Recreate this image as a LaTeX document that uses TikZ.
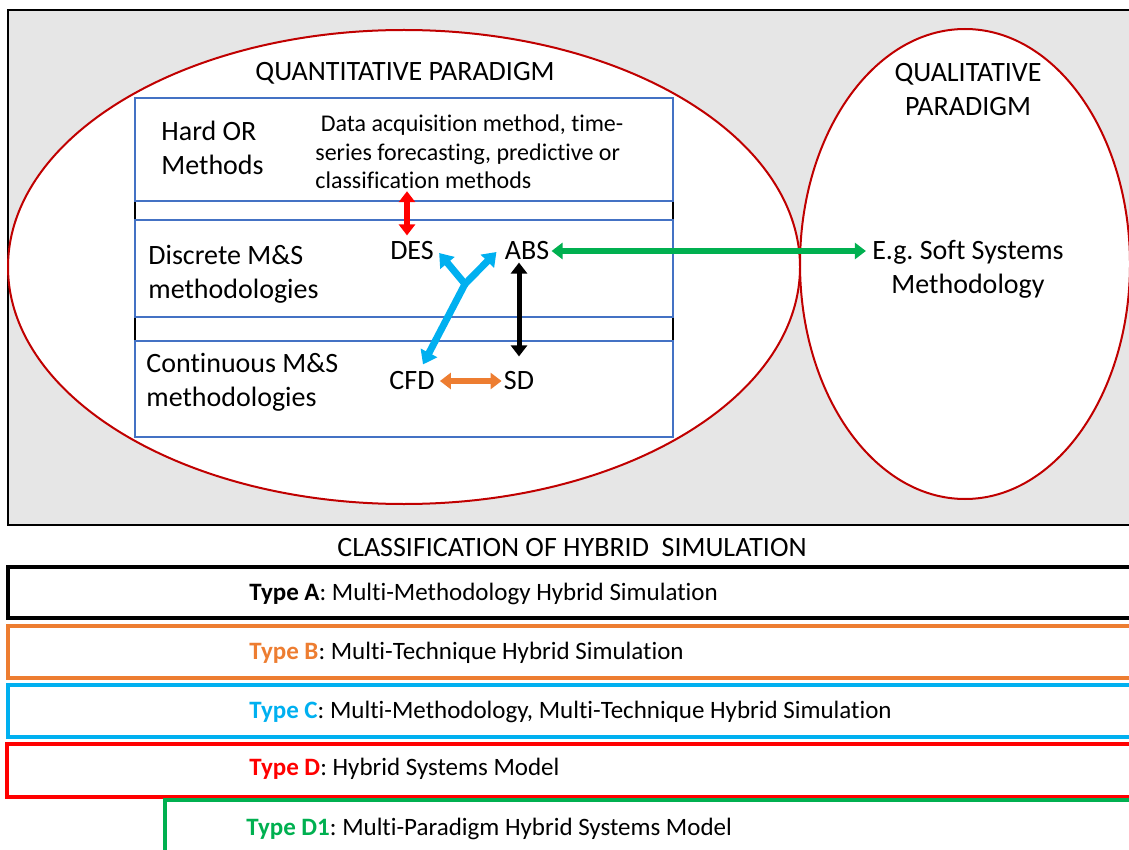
\documentclass[tikz,border=0pt]{standalone}
\usepackage{fontspec}
\setmainfont{Carlito}[Ligatures=NoCommon]
\usetikzlibrary{arrows.meta,calc}
\definecolor{typeorange}{HTML}{ED7D31}
\definecolor{typeblue}{HTML}{00B0F0}
\definecolor{typegreen}{HTML}{00B050}
\definecolor{layerblue}{HTML}{4472C4}
\definecolor{ovalred}{HTML}{C00000}
\definecolor{bggrey}{HTML}{E6E6E6}
\frenchspacing
\begin{document}
\begin{tikzpicture}[
      x=0.5pt, y=-0.5pt,
      every node/.style={inner sep=1pt, font=\fontsize{14}{17}\selectfont},
      txt/.style={align=left, anchor=west},
      small/.style={font=\fontsize{12}{14.2}\selectfont},
      typetxt/.style={anchor=west, font=\fontsize{12.5}{15}\selectfont},
      oval/.style={draw=ovalred, fill=white, line width=1pt},
      layer/.style={draw=layerblue, line width=0.75pt},
      typebox/.style={line width=1.75pt},
      link/.style={line width=3pt, {Triangle[length=5.5pt,width=8pt]}-{Triangle[length=5.5pt,width=8pt]}},
      splitarrow/.style={draw=typeblue, line width=3.5pt, line cap=round, -{Triangle[length=6.5pt,width=9pt]}}
      ]
      \useasboundingbox (0,0) rectangle (1129,850);
      \clip (0,0) rectangle (1129,850);
      \draw[fill=bggrey, line width=1pt] (8,10) rectangle (1140,525);
      \draw[oval] (404,267) ellipse [x radius=396, y radius=237];
      \draw[oval] (965,264) ellipse [x radius=165, y radius=235];
      \draw[line width=0.75pt] (135,201) -- (135,220) (673,201) -- (673,220)
        (135,317) -- (135,341) (673,317) -- (673,341);
      \draw[layer] (135,98) rectangle (673,201);
      \draw[layer] (135,220) rectangle (673,317);
      \draw[layer] (135,341) rectangle (673,437);

      \node (quant) at (405,73) {QUANTITATIVE PARADIGM};
      \node[align=center] (qual) at (968,90) {QUALITATIVE\\PARADIGM};
      \node[txt] (hardor) at (159,148) {Hard OR\\Methods};
      \node[txt, small] (data) at (313,152) {\ Data acquisition method, time-\\series forecasting, predictive or\\classification methods};
      \node[txt] (discrete) at (146,274) {Discrete M\&S\\methodologies};
      \node[txt] (continuous) at (144,382) {Continuous M\&S\\methodologies};
      \node (DES) at (412,251) {DES};
      \node (ABS) at (527,251) {ABS};
      \node (CFD) at (412,381) {CFD};
      \node (SD) at (519,381) {SD};
      \node[align=center] (soft) at (968,269) {E.g. Soft Systems\\Methodology};
      \coordinate (split) at (465,284);

      \draw[link, red] ($(DES.north |- data.south)+(-5,0)$) -- ($(DES.north)+(-5,-4)$);
      \draw[link, typegreen] (ABS.east) -- ($(soft.west |- ABS.east)+(-4,0)$);
      \draw[link, line width=2.5pt] (ABS.south -| SD.north) -- ($(SD.north)+(0,-13)$);
      \draw[link, typeorange] ($(CFD.east)+(3,0)$) -- (SD.west);
      \draw[splitarrow] (split) -- ($(DES.east)+(3,2)$);
      \draw[splitarrow] (split) -- ($(ABS.west)+(-6,1)$);
      \draw[splitarrow] (split) -- ($(CFD.north)+(11,-5)$);

      \node (classif) at (572,548) {CLASSIFICATION OF HYBRID \ SIMULATION};
      \draw[typebox] (8,567) rectangle (1140,618);
      \draw[typebox, typeorange] (8,626) rectangle (1140,678);
      \draw[typebox, typeblue] (8,685) rectangle (1140,737);
      \draw[typebox, red] (7,744) rectangle (1140,797);
      \draw[typebox, typegreen] (165,800) rectangle (1140,880);
      \node[typetxt] (typeA) at (247,594) {\textbf{Type A}: Multi-Methodology Hybrid Simulation};
      \node[typetxt] (typeB) at (247,653) {\textbf{\color{typeorange}Type B}: Multi-Technique Hybrid Simulation};
      \node[typetxt] (typeC) at (247,712) {\textbf{\color{typeblue}Type C}: Multi-Methodology, Multi-Technique Hybrid Simulation};
      \node[typetxt] (typeD) at (247,769) {\textbf{\color{red}Type D}: Hybrid Systems Model};
      \node[typetxt] (typeDone) at (244,829) {\textbf{\color{typegreen}Type D1}: Multi-Paradigm Hybrid Systems Model};
    \end{tikzpicture}
\end{document}
